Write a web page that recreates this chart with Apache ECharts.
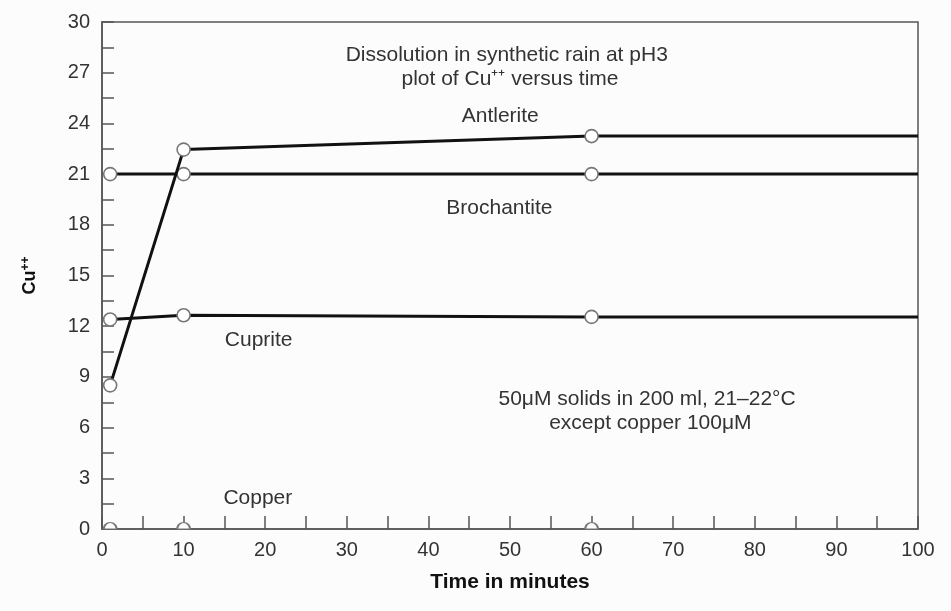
<!DOCTYPE html>
<html>
<head>
<meta charset="utf-8">
<script src="https://cdn.jsdelivr.net/npm/echarts@6/dist/echarts.min.js"></script>
<style>
  html, body { margin: 0; padding: 0; background: #fcfcfc; }
  #chart { width: 951px; height: 611px; }
</style>
</head>
<body>
<div id="chart"></div>
<script>
// Sampling times (minutes) and Cu++ readings for each solid
const times = [1, 10, 60, 100];
const antlerite = [8.5, 22.45, 23.25, 23.25];
const brochantite = [21, 21, 21, 21];
const cuprite = [12.4, 12.65, 12.55, 12.55];
const copperTimes = [1, 10, 60];
const copper = [0, 0, 0];

// Axis ranges and label steps
const xRange = [0, 100];
const xStep = 10;
const yRange = [0, 30];
const yStep = 3;

// Text notes anchored in data coordinates
const noteText = [
  'Dissolution in synthetic rain at pH3',
  'plot of Cu\u207A\u207A versus time',
  'Antlerite',
  'Brochantite',
  'Cuprite',
  '50\u03BCM solids in 200 ml, 21\u201322\u00B0C',
  'except copper 100\u03BCM',
  'Copper'
];
const noteX = [49.6, 50.0, 48.8, 48.7, 19.2, 66.8, 67.2, 19.1];
const noteY = [28.05, 26.6, 24.4, 19.0, 11.2, 7.7, 6.25, 1.85];

const FONT = '"Liberation Sans", Arial, Helvetica, sans-serif';
const INK = '#333';
const AXIS = '#555';

function pairs(xs, ys) {
  return ys.map((v, i) => [xs[i], v]);
}
// measured points get a marker, the run-out to the right edge does not
function withMarkers(xs, ys) {
  return ys.map((v, i) => {
    const item = { value: [xs[i], v] };
    if (xs[i] === xRange[1]) item.symbol = 'none';
    return item;
  });
}

const lineStyle = { color: '#111', width: 3 };
const markerStyle = { color: '#fff', borderColor: '#777', borderWidth: 1.6 };

const chart = echarts.init(document.getElementById('chart'), null, { renderer: 'canvas' });

const option = {
  backgroundColor: '#fcfcfc',
  animation: false,
  grid: {
    left: 102, right: 33, top: 22, bottom: 82,
    show: true, borderColor: AXIS, borderWidth: 1.5, backgroundColor: 'transparent'
  },
  xAxis: {
    type: 'value',
    min: xRange[0], max: xRange[1], interval: xStep,
    name: 'Time in minutes',
    nameLocation: 'middle',
    nameGap: 43,
    nameTextStyle: { fontFamily: FONT, fontSize: 21, fontWeight: 'bold', color: '#111' },
    axisLine: { show: true, lineStyle: { color: AXIS, width: 1.5 } },
    axisTick: { show: true, inside: true, length: 13, lineStyle: { color: AXIS, width: 1.5 } },
    minorTick: { show: true, splitNumber: 2, length: 13, lineStyle: { color: AXIS, width: 1.5 } },
    splitLine: { show: false },
    axisLabel: { fontFamily: FONT, fontSize: 20, color: INK, margin: 11 }
  },
  yAxis: {
    type: 'value',
    min: yRange[0], max: yRange[1], interval: yStep,
    name: 'Cu{sup|++}',
    nameLocation: 'middle',
    nameGap: 62,
    nameRotate: 90,
    nameTextStyle: {
      fontFamily: FONT, fontSize: 18, fontWeight: 'bold', color: '#111',
      rich: { sup: { fontFamily: FONT, fontSize: 12, fontWeight: 'bold', color: '#111', verticalAlign: 'top', padding: [0, 0, 8, 0] } }
    },
    axisLine: { show: true, lineStyle: { color: AXIS, width: 1.5 } },
    axisTick: { show: true, inside: true, length: 12, lineStyle: { color: AXIS, width: 1.5 } },
    minorTick: { show: true, splitNumber: 2, length: 12, lineStyle: { color: AXIS, width: 1.5 } },
    splitLine: { show: false },
    axisLabel: { fontFamily: FONT, fontSize: 20, color: INK, margin: 12 }
  },
  series: [
    {
      name: 'Brochantite', type: 'line', data: withMarkers(times, brochantite),
      symbol: 'circle', symbolSize: 13, lineStyle, itemStyle: markerStyle, z: 3
    },
    {
      name: 'Cuprite', type: 'line', data: withMarkers(times, cuprite),
      symbol: 'circle', symbolSize: 13, lineStyle, itemStyle: markerStyle, z: 3
    },
    {
      name: 'Antlerite', type: 'line', data: withMarkers(times, antlerite),
      symbol: 'circle', symbolSize: 13, lineStyle, itemStyle: markerStyle, z: 4
    },
    {
      // copper stays at zero: only the upper half of each marker shows above the axis
      name: 'Copper', type: 'line', data: pairs(copperTimes, copper),
      lineStyle: { width: 0 },
      symbol: 'path://M0 10 A10 10 0 0 1 20 10 Z',
      symbolSize: [13, 6.5], symbolOffset: [0, -3.25],
      itemStyle: markerStyle, z: 2
    }
  ]
};

chart.setOption(option);

// place the notes using the chart's own coordinate conversion
const graphics = noteText.map((t, i) => {
  const p = chart.convertToPixel({ gridIndex: 0 }, [noteX[i], noteY[i]]);
  return {
    type: 'text',
    x: p[0], y: p[1],
    style: {
      text: t, fill: INK, font: '21px ' + FONT,
      textAlign: 'center', textVerticalAlign: 'middle'
    },
    z: 10
  };
});
chart.setOption({ graphic: graphics });
</script>
</body>
</html>
